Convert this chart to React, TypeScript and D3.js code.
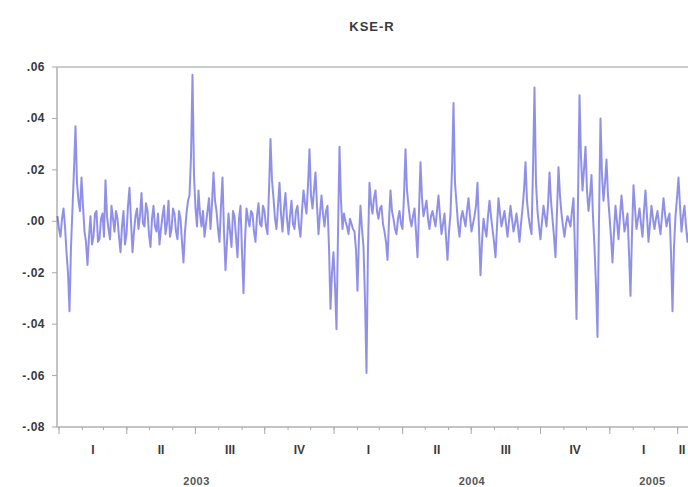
import React from 'react'
import * as d3 from 'd3'

const width = 688
const height = 487
const margin = { top: 67, left: 57, bottom: 427, right: 695 }

const title = 'KSE-R'
const startDate = new Date(2002, 11, 30)
const endDate = new Date(2005, 3, 22)

// daily returns (left to right)
const returns = [
  0.002, -0.003, -0.006, 0.001, 0.005, -0.002, -0.012, -0.020, -0.035, -0.010,
  0.005, 0.020, 0.037, 0.015, 0.008, 0.004, 0.017, 0.006, -0.004, -0.008,
  -0.017, -0.006, 0.002, -0.009, -0.006, 0.003, 0.004, -0.008, -0.007, 0.001,
  0.003, -0.006, 0.016, 0.002, -0.003, -0.007, 0.006, 0.001, -0.004, 0.004,
  0.001, -0.006, -0.012, -0.002, 0.004, -0.009, -0.005, 0.006, 0.013, 0.000,
  -0.012, -0.004, 0.002, 0.005, -0.003, 0.002, 0.011, -0.001, -0.002, 0.007,
  0.004, -0.005, -0.010, 0.001, 0.006, -0.002, -0.004, 0.003, -0.009, -0.003,
  0.002, 0.006, -0.005, -0.001, 0.008, -0.006, -0.003, 0.005, 0.003, -0.004,
  -0.007, 0.004, 0.001, -0.008, -0.016, -0.004, 0.003, 0.008, 0.010, 0.025,
  0.057, 0.018, 0.005, -0.002, 0.012, 0.003, -0.002, 0.004, -0.006, -0.001,
  0.004, 0.009, -0.003, 0.007, 0.019, 0.008, 0.004, -0.003, -0.008, 0.006,
  0.017, -0.004, -0.019, -0.008, 0.003, -0.004, -0.010, 0.004, 0.002, -0.006,
  -0.014, 0.001, 0.006, -0.012, -0.028, -0.008, 0.005, 0.001, -0.002, 0.004,
  0.003, -0.004, -0.008, 0.002, 0.007, -0.001, -0.002, 0.006, 0.004, -0.002,
  -0.005, 0.012, 0.032, 0.016, 0.009, 0.001, -0.003, 0.006, 0.015, 0.003,
  -0.004, 0.005, 0.011, 0.001, -0.005, 0.002, 0.008, -0.001, -0.003, 0.004,
  0.006, -0.002, -0.006, 0.004, 0.012, 0.007, 0.003, 0.014, 0.028, 0.010,
  0.005, 0.012, 0.019, 0.006, -0.005, 0.003, 0.010, 0.003, -0.002, 0.004,
  0.006, -0.010, -0.034, -0.020, -0.012, -0.025, -0.042, -0.005, 0.029, 0.008,
  -0.003, 0.003, 0.000, -0.002, -0.005, 0.001, -0.001, -0.003, -0.004, -0.011,
  -0.027, -0.006, 0.006, -0.003, -0.010, -0.030, -0.059, -0.010, 0.015, 0.007,
  0.003, 0.009, 0.012, 0.004, 0.001, 0.005, 0.006, -0.001, -0.004, -0.008,
  -0.015, 0.000, 0.012, 0.004, 0.001, -0.003, -0.005, 0.001, 0.004, -0.001,
  -0.003, 0.010, 0.028, 0.012, 0.006, 0.001, -0.002, 0.002, 0.005, -0.004,
  -0.014, 0.004, 0.023, 0.009, 0.002, 0.005, 0.008, 0.001, -0.003, 0.002,
  0.004, 0.001, -0.002, 0.004, 0.010, 0.002, -0.005, -0.001, 0.003, -0.006,
  -0.015, -0.004, 0.003, 0.020, 0.046, 0.015, 0.007, -0.001, -0.006, 0.001,
  0.004, 0.001, -0.002, 0.004, 0.009, 0.002, -0.004, -0.001, 0.002, 0.006,
  0.015, -0.003, -0.021, -0.008, 0.001, -0.003, -0.006, 0.002, 0.008, 0.002,
  -0.003, -0.008, -0.014, -0.002, 0.009, 0.003, -0.002, 0.001, 0.004, -0.001,
  -0.006, 0.000, 0.006, 0.001, -0.004, -0.001, 0.003, -0.002, -0.008, -0.001,
  0.005, 0.012, 0.023, 0.008, 0.002, -0.002, -0.005, 0.020, 0.052, 0.015,
  0.004, -0.002, -0.007, 0.000, 0.006, 0.002, -0.002, 0.006, 0.019, 0.008,
  0.001, -0.006, -0.014, 0.004, 0.021, 0.010, 0.003, -0.002, -0.006, -0.001,
  0.002, 0.000, -0.002, 0.004, 0.009, -0.012, -0.038, 0.008, 0.049, 0.025,
  0.012, 0.020, 0.029, 0.012, 0.004, 0.010, 0.018, 0.002, -0.010, -0.025,
  -0.045, 0.000, 0.040, 0.018, 0.008, 0.015, 0.024, 0.010, 0.002, -0.006,
  -0.016, -0.004, 0.006, 0.000, -0.007, 0.002, 0.010, 0.003, -0.004, -0.001,
  0.003, -0.012, -0.029, -0.005, 0.014, 0.005, -0.003, 0.001, 0.005, -0.001,
  -0.006, 0.004, 0.012, 0.002, -0.008, -0.001, 0.006, 0.001, -0.003, 0.001,
  0.004, -0.001, -0.005, 0.002, 0.009, 0.003, -0.002, 0.001, 0.003, -0.012,
  -0.035, -0.010, 0.002, 0.009, 0.017, 0.006, -0.004, 0.002, 0.006, -0.002,
  -0.008, -0.004, -0.002, 0.001, 0.004,
]

const yTicks = [0.06, 0.04, 0.02, 0.0, -0.02, -0.04, -0.06, -0.08]
const quarterNames = ['I', 'II', 'III', 'IV']
const years = [2003, 2004, 2005]

const xScale = d3.scaleTime()
  .domain([new Date(2003, 0, 1), new Date(2005, 3, 24)])
  .range([59, margin.right])

const yScale = d3.scaleLinear()
  .domain([-0.08, 0.06])
  .range([margin.bottom, margin.top])

const fmt = (v: number) => {
  const s = d3.format('.2f')(v)
  return s.replace('0.', '.').replace('−', '-')
}

function App() {
  const step = (endDate.getTime() - startDate.getTime()) / (returns.length - 1)
  const points = returns.map((v, i) => ({ date: new Date(startDate.getTime() + i * step), v }))
  const line = d3.line<{ date: Date, v: number }>()
    .x(d => xScale(d.date))
    .y(d => yScale(d.v))

  const [d0, d1] = xScale.domain()
  const months = d3.timeMonth.range(d0, d1)
  const quarters = d3.timeMonth.every(3)!.range(d0, d1)

  const labelFont = { fontFamily: 'Arial, "Liberation Sans", sans-serif', fontSize: 12, fontWeight: 'bold' as const, fill: '#3a3a3a' }

  return (
    <svg width={width} height={height} style={{ position: 'absolute', left: 0, top: 0, background: '#fff' }}>
      <defs>
        <filter id="soft" x="-5%" y="-5%" width="110%" height="110%">
          <feGaussianBlur stdDeviation="0.7" />
        </filter>
      </defs>
      <text x={372} y={31} textAnchor="middle" {...labelFont} fontSize={13} letterSpacing={1}>{title}</text>

      {/* frame */}
      <line x1={margin.left} x2={width} y1={margin.top} y2={margin.top} stroke="#cccccc" strokeWidth={2} />
      <line x1={margin.left} x2={margin.left} y1={margin.top} y2={margin.bottom} stroke="#c4c4c4" strokeWidth={2} />
      <line x1={margin.left} x2={width} y1={margin.bottom} y2={margin.bottom} stroke="#c4c4c4" strokeWidth={2} />

      {yTicks.map(t => (
        <g key={t}>
          <line x1={margin.left - 5} x2={margin.left} y1={yScale(t)} y2={yScale(t)} stroke="#aaa" />
          <text x={45} y={yScale(t) + 4} textAnchor="end" {...labelFont} letterSpacing={0.5}>{fmt(t)}</text>
        </g>
      ))}

      {months.map(m => (
        <line key={+m} x1={xScale(m)} x2={xScale(m)} y1={margin.bottom} y2={margin.bottom + 3} stroke="#aaa" />
      ))}
      {quarters.map(q => (
        <line key={'q' + +q} x1={xScale(q)} x2={xScale(q)} y1={margin.bottom} y2={margin.bottom + 7} stroke="#aaa" />
      ))}
      {quarters.map(q => {
        const next = d3.timeMonth.offset(q, 3)
        const end = next > d1 ? d1 : next
        // keep the last, partial quarter label inside the window
        const cx = Math.min((xScale(q) + xScale(end)) / 2, width - 6)
        return (
          <text key={'ql' + +q} x={cx} y={454} textAnchor="middle" {...labelFont}>
            {quarterNames[Math.floor(q.getMonth() / 3)]}
          </text>
        )
      })}
      {years.map(y => {
        const a = new Date(y, 0, 1)
        const b = new Date(y + 1, 0, 1)
        const cx = (xScale(a) + xScale(b > d1 ? d1 : b)) / 2
        return (
          <text key={y} x={cx} y={485} textAnchor="middle" {...labelFont} fontSize={11} fill="#555" letterSpacing={0.5}>{y}</text>
        )
      })}

      <path d={line(points) ?? ''} fill="none" stroke="#2626d2" strokeOpacity={0.5} strokeWidth={2} strokeLinejoin="round" filter="url(#soft)" />
    </svg>
  )
}

export default App
